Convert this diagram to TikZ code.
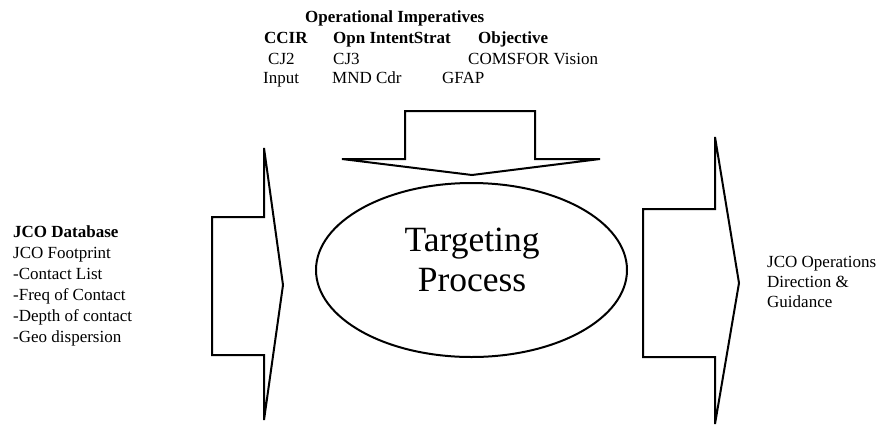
\documentclass[tikz,border=0pt]{standalone}
\usepackage{fontspec}
\setmainfont{Liberation Serif}
\usetikzlibrary{shapes.geometric}
\begin{document}
\begin{tikzpicture}[x=1pt,y=-1pt,
  shapeline/.style={draw=black,line width=2pt,line join=miter},
  txt/.style={anchor=base west,inner sep=0pt,font=\fontsize{17}{20}\selectfont},
  btxt/.style={txt,font=\fontsize{17}{20}\selectfont\bfseries},
  big/.style={anchor=base,inner sep=0pt,font=\fontsize{35.5}{40}\selectfont}]
\useasboundingbox (0,0) rectangle (879,424);
% top labels
\node[btxt] (oi) at (305,22.5) {Operational Imperatives};
\node[btxt] (ccir) at (264,43) {CCIR};
\node[btxt] (opn) at (333,43) {Opn IntentStrat};
\node[btxt] (obj) at (478,43) {Objective};
\node[txt] (cj2) at (268,64) {CJ2};
\node[txt] (cj3) at (333,64) {CJ3};
\node[txt] (cv) at (468,64) {COMSFOR Vision};
\node[txt] (inp) at (263,83.5) {Input};
\node[txt] (mnd) at (332,83.5) {MND Cdr};
\node[txt] (gfap) at (442,83.5) {GFAP};
% left labels
\node[btxt] (jdb) at (13,237) {JCO Database};
\node[txt] (jfp) at (13,258) {JCO Footprint};
\node[txt] (cl) at (13,279) {-Contact List};
\node[txt] (fc) at (13,300) {-Freq of Contact};
\node[txt] (dc) at (13,321) {-Depth of contact};
\node[txt] (gd) at (13,342) {-Geo dispersion};
% right labels
\node[txt] (r1) at (767,267) {JCO Operations};
\node[txt] (r2) at (767,287) {Direction \&};
\node[txt] (r3) at (767,307) {Guidance};
% left arrow
\draw[shapeline] (212,217) -- (264,217) -- (264,148) -- (283,285) -- (264,420) -- (264,355) -- (212,355) -- cycle;
% down arrow
\draw[shapeline] (405,111) -- (535,111) -- (535,159) -- (600,159) -- (472,175) -- (342,159) -- (405,159) -- cycle;
% right arrow
\draw[shapeline] (643,209) -- (715,209) -- (715,137) -- (739,283) -- (715,424) -- (715,357) -- (643,357) -- cycle;
% ellipse
\node[shapeline,ellipse,minimum width=311,minimum height=174,inner sep=0pt] (tp) at (471.5,270) {};
\node[big] (t1) at (472,251.7) {Targeting};
\node[big] (t2) at (472,291.7) {Process};
\end{tikzpicture}
\end{document}
